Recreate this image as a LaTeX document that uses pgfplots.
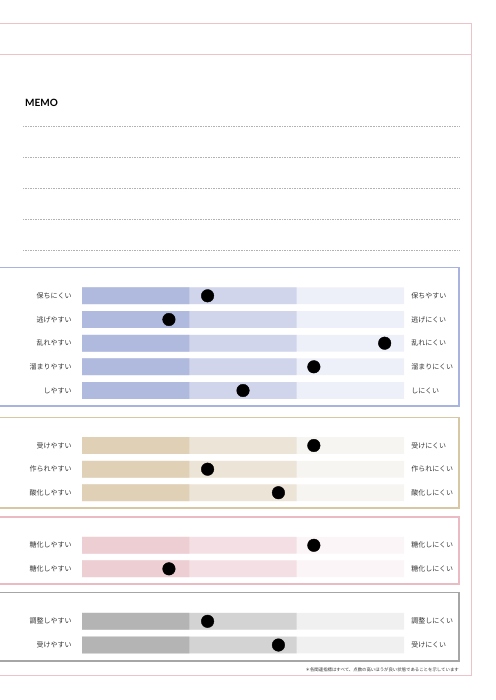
\documentclass[border=0pt]{standalone}
\usepackage{pgfplots}
\pgfplotsset{compat=1.18}
\usepackage{pgfplotstable}
\usepackage{fontspec}
\setmainfont{Lato}
\newfontfamily\jp{Noto Sans CJK JP}
\definecolor{txt}{HTML}{333333}
\definecolor{framepink}{HTML}{EBC3C8}
\definecolor{bdA}{HTML}{A9B3E0}
\definecolor{bdB}{HTML}{D8C7A3}
\definecolor{bdC}{HTML}{EABBC3}
\definecolor{bdD}{HTML}{A6A6A6}
\definecolor{A1}{HTML}{B0B9DE}\definecolor{A2}{HTML}{D0D5EC}\definecolor{A3}{HTML}{EEF0F9}
\definecolor{B1}{HTML}{E0D0B6}\definecolor{B2}{HTML}{EDE4D8}\definecolor{B3}{HTML}{F7F5F2}
\definecolor{C1}{HTML}{ECCED3}\definecolor{C2}{HTML}{F4E0E4}\definecolor{C3}{HTML}{FBF5F7}
\definecolor{D1}{HTML}{B4B4B4}\definecolor{D2}{HTML}{D3D3D3}\definecolor{D3}{HTML}{F0F0F0}
% y = row position (px from top), val = score 0-100
\pgfplotstableread{
y val
295.8 39
319.5 27
343.2 94
366.8 72
390.5 50
}\groupA
\pgfplotstableread{
y val
445.5 72
469.2 39
492.7 61
}\groupB
\pgfplotstableread{
y val
545.3 72
568.8 27
}\groupC
\pgfplotstableread{
y val
621.3 39
645.0 61
}\groupD
\newcommand{\lab}{\jp\fontsize{7}{8}\selectfont\color{txt}}
\begin{document}
\begin{tikzpicture}
\begin{axis}[
  at={(0pt,0pt)}, anchor=north west,
  scale only axis, width=495pt, height=700pt,
  xmin=-25.4658, xmax=128.2609,
  ymin=0, ymax=700, y dir=reverse,
  axis line style={draw=none}, tick style={draw=none},
  xtick=\empty,
  ytick={295.8,319.5,343.2,366.8,390.5,445.5,469.2,492.7,545.3,568.8,621.3,645.0},
  yticklabels={保ちにくい,逃げやすい,乱れやすい,溜まりやすい,しやすい,受けやすい,作られやすい,酸化しやすい,糖化しやすい,糖化しやすい,調整しやすい,受けやすい},
  yticklabel style={anchor=east, inner sep=0pt, xshift=76pt, font=\lab},
  clip=false,
  xbar, bar shift=0pt, bar width=16.7,
]
% group A
\addplot[fill=A3, draw=none] coordinates {(100,295.8) (100,319.5) (100,343.2) (100,366.8) (100,390.5)};
\addplot[fill=A2, draw=none] coordinates {(66.67,295.8) (66.67,319.5) (66.67,343.2) (66.67,366.8) (66.67,390.5)};
\addplot[fill=A1, draw=none] coordinates {(33.33,295.8) (33.33,319.5) (33.33,343.2) (33.33,366.8) (33.33,390.5)};
% group B
\addplot[fill=B3, draw=none] coordinates {(100,445.5) (100,469.2) (100,492.7)};
\addplot[fill=B2, draw=none] coordinates {(66.67,445.5) (66.67,469.2) (66.67,492.7)};
\addplot[fill=B1, draw=none] coordinates {(33.33,445.5) (33.33,469.2) (33.33,492.7)};
% group C
\addplot[fill=C3, draw=none] coordinates {(100,545.3) (100,568.8)};
\addplot[fill=C2, draw=none] coordinates {(66.67,545.3) (66.67,568.8)};
\addplot[fill=C1, draw=none] coordinates {(33.33,545.3) (33.33,568.8)};
% group D
\addplot[fill=D3, draw=none] coordinates {(100,621.3) (100,645.0)};
\addplot[fill=D2, draw=none] coordinates {(66.67,621.3) (66.67,645.0)};
\addplot[fill=D1, draw=none] coordinates {(33.33,621.3) (33.33,645.0)};
% markers
\addplot[xbar=false, only marks, mark=*, mark size=6.3pt, black] table[x=val, y=y] {\groupA};
\addplot[xbar=false, only marks, mark=*, mark size=6.3pt, black] table[x=val, y=y] {\groupB};
\addplot[xbar=false, only marks, mark=*, mark size=6.3pt, black] table[x=val, y=y] {\groupC};
\addplot[xbar=false, only marks, mark=*, mark size=6.3pt, black] table[x=val, y=y] {\groupD};
% right labels
\begin{scope}[every node/.style={anchor=west, inner sep=0pt, font=\lab}]
\node at (axis cs:102.2,295.8) {保ちやすい};
\node at (axis cs:102.2,319.5) {逃げにくい};
\node at (axis cs:102.2,343.2) {乱れにくい};
\node at (axis cs:102.2,366.8) {溜まりにくい};
\node at (axis cs:102.2,390.5) {しにくい};
\node at (axis cs:102.2,445.5) {受けにくい};
\node at (axis cs:102.2,469.2) {作られにくい};
\node at (axis cs:102.2,492.7) {酸化しにくい};
\node at (axis cs:102.2,545.3) {糖化しにくい};
\node at (axis cs:102.2,568.8) {糖化しにくい};
\node at (axis cs:102.2,621.3) {調整しにくい};
\node at (axis cs:102.2,645.0) {受けにくい};
\end{scope}
\end{axis}
\begin{scope}[x=1pt,y=-1pt]
\draw[framepink, line width=0.9pt] (-3,23) -- (471,23) -- (471,675) -- (-3,675);
\draw[framepink, line width=0.9pt] (-3,54) -- (471,54);
\node[anchor=west, inner sep=0pt, font=\bfseries\fontsize{10}{11}\selectfont] at (25,102.5) {MEMO};
\foreach \yy in {126,157,188,219,250}
  \draw[black!30, line width=0.55pt, dash pattern=on 0.55pt off 1.1pt] (23,\yy) -- (460,\yy);
\draw[bdA, line width=1.2pt] (-3,267.5) rectangle (459,406);
\draw[bdB, line width=1.1pt] (-3,417.5) rectangle (459,508);
\draw[bdC, line width=1.1pt] (-3,517) rectangle (459,584);
\draw[bdD, line width=1.1pt] (-3,592.5) rectangle (459,661);
\node[anchor=east, inner sep=0pt, font=\jp\fontsize{4.4}{5}\selectfont\color{txt}] at (459,669.5) {＊各関連指標はすべて、点数の高いほうが良い状態であることを示しています};
\end{scope}
\pgfresetboundingbox
\useasboundingbox (0,0) rectangle (495pt,-700pt);
\end{tikzpicture}
\end{document}
